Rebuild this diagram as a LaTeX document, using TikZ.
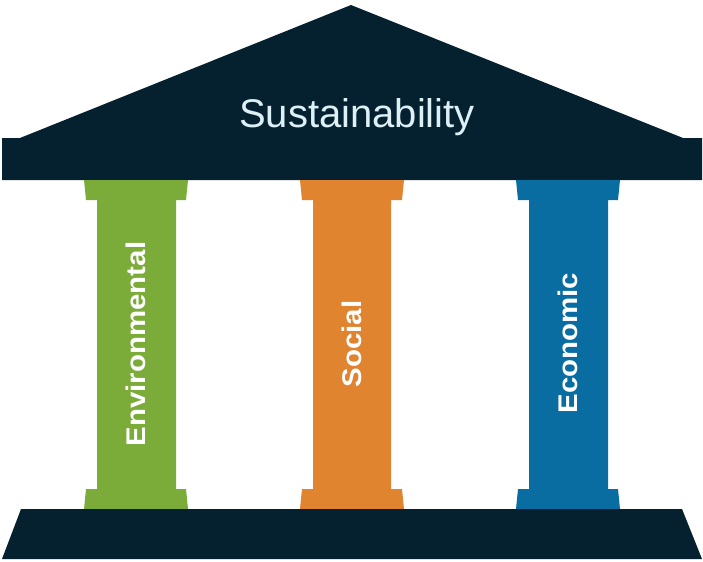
\documentclass[tikz,border=0pt]{standalone}
\usepackage{fontspec}
\setmainfont{Liberation Sans}
\newfontfamily\pillarfont[FakeStretch=1.09]{Liberation Sans}
\usetikzlibrary{positioning}

\definecolor{temple}{HTML}{05212F}
\definecolor{envgreen}{HTML}{7BAC3A}
\definecolor{socorange}{HTML}{E0842F}
\definecolor{ecoblue}{HTML}{0A6DA2}
\definecolor{rooftext}{HTML}{DDF0F6}

\begin{document}
\begin{tikzpicture}[
  x=0.5pt, y=-0.5pt,
  roof/.style={fill=temple},
  titulo/.style={font=\fontsize{20}{24}\selectfont, text=rooftext, anchor=base, inner sep=0pt},
  pilar/.style={font=\pillarfont\bfseries\fontsize{13.5}{16}\selectfont, text=white, rotate=90, anchor=base, inner sep=0pt}
]
  \useasboundingbox (0,0) rectangle (703,562);

  % Roof
  \fill[roof] (2,138) -- (20,138) -- (351,5) -- (683,138) -- (702,138)
    -- (702,180) -- (2,180) -- cycle;
  \node[titulo] (sust) at (357,127) {Sustainability};

  % Pillars
  \fill[envgreen] (84,180) -- (188,180) -- (186,200) -- (176,200) -- (176,489)
    -- (186,489) -- (188,509) -- (84,509) -- (86,489) -- (97,489) -- (97,200)
    -- (86,200) -- cycle;
  \fill[socorange] (300,180) -- (404,180) -- (402,200) -- (391,200) -- (391,489)
    -- (402,489) -- (404,509) -- (300,509) -- (302,489) -- (313,489) -- (313,200)
    -- (302,200) -- cycle;
  \fill[ecoblue] (516,180) -- (620,180) -- (618,200) -- (608,200) -- (608,489)
    -- (618,489) -- (620,509) -- (516,509) -- (518,489) -- (529,489) -- (529,200)
    -- (518,200) -- cycle;

  \node[pilar] (env) at (145,344) {Environmental};
  \node[pilar] (soc) at (361,344) {Social};
  \node[pilar] (eco) at (577,343) {Economic};

  % Base
  \fill[roof] (21,509) -- (682,509) -- (702,559) -- (2,559) -- cycle;
\end{tikzpicture}
\end{document}
